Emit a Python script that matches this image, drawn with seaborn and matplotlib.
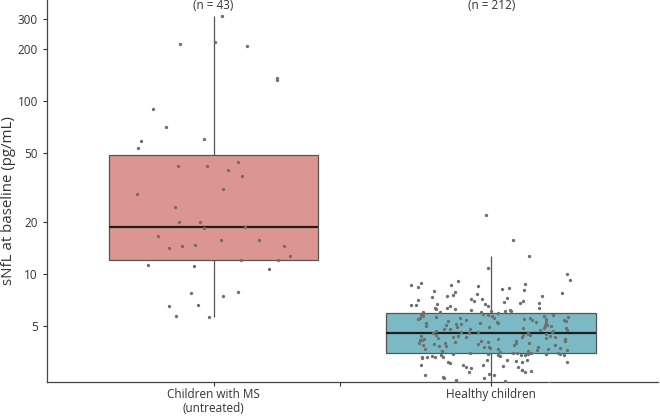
# sNfL baseline boxplot: children with MS vs healthy children
import numpy as np
import pandas as pd
import matplotlib
matplotlib.use("Agg")
import matplotlib.pyplot as plt
import matplotlib.transforms as mtransforms
import seaborn as sns

# ---------------------------------------------------------
# DATA (pg/mL)
# ---------------------------------------------------------
GROUPS = ["Children with MS\n(untreated)", "Healthy children"]
N_LABELS = ["(n = 43)", "(n = 212)"]

ms_values = [
    311, 208, 213, 219, 136, 132, 90, 70.8, 58.7, 60.3, 53.5,
    42.1, 44.4, 42.1, 36.8, 39.9, 29.0, 31.0, 24.4, 20.0, 20.0,
    18.7, 18.4, 16.6, 15.7, 15.7, 14.5, 14.1, 14.7, 14.5, 12.7,
    12.05, 12.05, 10.7, 11.1, 11.3, 7.87, 7.46, 7.76, 6.53, 6.62,
    5.64, 5.71,
]

healthy_values = [
    # below the box
    2.2, 2.3, 2.35, 2.4, 2.4, 2.45, 2.5, 2.5, 2.55, 2.6, 2.6, 2.65,
    2.7, 2.7, 2.75, 2.8, 2.8, 2.85, 2.9, 2.9, 2.95, 3.0, 3.0, 3.0,
    3.05, 3.1, 3.1, 3.1, 3.15, 3.2, 3.2, 3.2, 3.25, 3.3, 3.3, 3.3,
    3.3, 3.35, 3.35, 3.4, 3.4, 3.4, 3.4, 3.42, 3.44, 3.45, 3.45,
    3.46, 3.47, 3.47, 3.48, 3.48, 3.48,
    # inside the box
    3.50, 3.52, 3.55, 3.57, 3.6, 3.6, 3.62, 3.65, 3.67, 3.7, 3.7,
    3.72, 3.75, 3.77, 3.8, 3.8, 3.82, 3.85, 3.87, 3.9, 3.9, 3.92,
    3.95, 3.97, 4.0, 4.0, 4.02, 4.05, 4.07, 4.1, 4.1, 4.12, 4.15,
    4.17, 4.2, 4.2, 4.22, 4.25, 4.27, 4.3, 4.3, 4.32, 4.35, 4.37,
    4.4, 4.4, 4.42, 4.45, 4.47, 4.5, 4.52, 4.54, 4.55,
    4.57, 4.6, 4.6, 4.65, 4.68, 4.7, 4.72, 4.75, 4.8, 4.8, 4.83,
    4.86, 4.9, 4.9, 4.93, 4.96, 5.0, 5.0, 5.03, 5.06, 5.1, 5.1,
    5.13, 5.16, 5.2, 5.2, 5.24, 5.27, 5.3, 5.3, 5.34, 5.37, 5.4,
    5.4, 5.44, 5.47, 5.5, 5.5, 5.54, 5.57, 5.6, 5.6, 5.64, 5.67,
    5.7, 5.7, 5.74, 5.77, 5.8, 5.82, 5.86, 5.9, 5.94,
    # above the box
    5.97, 6.0, 6.0, 6.05, 6.1, 6.1, 6.15, 6.2, 6.2, 6.3, 6.3, 6.35,
    6.4, 6.4, 6.5, 6.5, 6.6, 6.6, 6.7, 6.7, 6.8, 6.8, 6.9, 7.0,
    7.0, 7.1, 7.2, 7.2, 7.3, 7.4, 7.5, 7.5, 7.6, 7.7, 7.8, 7.9,
    8.0, 8.1, 8.2, 8.3, 8.4, 8.5, 8.6, 8.7, 8.8, 8.9, 9.1, 9.3,
    10.0, 10.8, 12.7, 15.7, 22.0,
]

Y_TICKS = [5, 10, 20, 50, 100, 200, 300]
BOX_COLORS = ["#DC9692", "#7BBAC4"]

df = pd.DataFrame({
    "group": [GROUPS[0]] * len(ms_values) + [GROUPS[1]] * len(healthy_values),
    "sNfL": ms_values + healthy_values,
})

# ---------------------------------------------------------
# PLOT
# ---------------------------------------------------------
sns.set_style("ticks")
plt.rcParams["font.family"] = ["Open Sans", "DejaVu Sans"]

fig = plt.figure(figsize=(6.6, 4.16), dpi=100)
ax = fig.add_axes([0.071, 0.082, 0.926, 0.918])

sns.boxplot(
    data=df, x="group", y="sNfL", hue="group", palette=BOX_COLORS,
    order=GROUPS, hue_order=GROUPS, legend=False, saturation=1,
    width=0.755, log_scale=True, showfliers=False, showcaps=False,
    linecolor="#555555", linewidth=0.9,
    medianprops={"color": "#1e1e1e", "linewidth": 1.6},
    ax=ax,
)

np.random.seed(3)
sns.stripplot(
    data=df, x="group", y="sNfL", order=GROUPS, color="#6f6f6f",
    size=2.4, jitter=0.29, linewidth=0, zorder=5, ax=ax,
)

ax.set_ylim(2.38, 385)
ax.set_xlim(-0.6, 1.6)
ax.set_yticks(Y_TICKS)
ax.set_yticklabels([str(t) for t in Y_TICKS])
ax.yaxis.set_minor_locator(matplotlib.ticker.NullLocator())
ax.set_xticks([0.457], minor=True)

ax.set_xlabel("")
ax.set_ylabel("sNfL at baseline (pg/mL)", fontsize=10.8, color="#333333")
ax.yaxis.set_label_coords(-0.051, 0.476)
ax.tick_params(axis="both", labelsize=8.5, colors="#333333", length=3,
               width=0.8, which="both")
ax.tick_params(axis="x", pad=1.5)
for lab in ax.get_xticklabels():
    lab.set_linespacing(1.05)

for side in ["top", "right"]:
    ax.spines[side].set_visible(False)
for side in ["left", "bottom"]:
    ax.spines[side].set_color("#444444")
    ax.spines[side].set_linewidth(0.9)

trans = mtransforms.blended_transform_factory(ax.transData, ax.transAxes)
for i, lab in enumerate(N_LABELS):
    ax.text(i, 0.986, lab, transform=trans, ha="center", va="center",
            fontsize=8.5, color="#333333")

fig.savefig("out.png", dpi=100)
